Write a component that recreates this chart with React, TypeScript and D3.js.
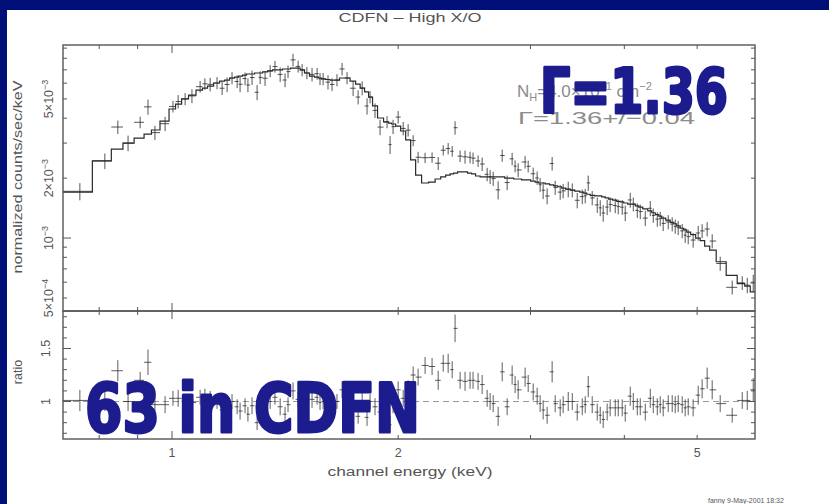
import React from "react";
import * as d3 from "d3";

// Bin centre energies (keV)
const energies = [
  0.754, 0.814, 0.847, 0.874, 0.907, 0.929, 0.949, 0.979, 1.003, 1.019,
  1.041, 1.063, 1.090, 1.106, 1.124, 1.148, 1.166, 1.184, 1.202, 1.221,
  1.232, 1.251, 1.262, 1.278, 1.298, 1.310, 1.330, 1.351, 1.371, 1.393,
  1.414, 1.427, 1.449, 1.472, 1.490, 1.512, 1.536, 1.560, 1.574, 1.589,
  1.613, 1.633, 1.658, 1.684, 1.710, 1.742, 1.769, 1.791, 1.818, 1.835,
  1.863, 1.892, 1.933, 1.951, 1.969, 2.000, 2.031, 2.062, 2.094, 2.126,
  2.172, 2.219, 2.261, 2.296, 2.331, 2.360, 2.381, 2.418, 2.455, 2.493,
  2.516, 2.555, 2.587, 2.627, 2.651, 2.676, 2.717, 2.751, 2.793, 2.836,
  2.862, 2.889, 2.951, 2.979, 3.025, 3.062, 3.090, 3.119, 3.157, 3.206,
  3.236, 3.286, 3.316, 3.368, 3.410, 3.462, 3.516, 3.548, 3.581, 3.625,
  3.681, 3.715, 3.749, 3.795, 3.830, 3.890, 3.926, 3.974, 4.011, 4.073,
  4.111, 4.162, 4.200, 4.265, 4.331, 4.371, 4.425, 4.465, 4.506, 4.576,
  4.632, 4.675, 4.718, 4.776, 4.820, 4.865, 4.939, 5.016, 5.077, 5.156,
  5.236, 5.366, 5.567, 5.741, 5.830, 5.938,
];

// Folded model (normalized counts/sec/keV)
const modelFlux = [
  1.70e-3, 2.44e-3, 2.80e-3, 3.00e-3, 3.18e-3, 3.33e-3, 3.49e-3, 3.87e-3, 4.45e-3, 4.71e-3,
  5.00e-3, 5.23e-3, 5.54e-3, 5.67e-3, 5.80e-3, 6.01e-3, 6.15e-3, 6.22e-3, 6.37e-3, 6.44e-3,
  6.51e-3, 6.59e-3, 6.67e-3, 6.67e-3, 6.75e-3, 6.75e-3, 6.83e-3, 6.91e-3, 6.99e-3, 6.99e-3,
  7.07e-3, 7.07e-3, 7.14e-3, 7.14e-3, 6.99e-3, 6.75e-3, 6.51e-3, 6.44e-3, 6.37e-3, 6.30e-3,
  6.26e-3, 6.22e-3, 6.22e-3, 6.37e-3, 6.37e-3, 6.15e-3, 5.94e-3, 5.67e-3, 5.42e-3, 5.11e-3,
  4.61e-3, 4.01e-3, 3.83e-3, 3.78e-3, 3.74e-3, 3.65e-3, 3.45e-3, 3.11e-3, 2.47e-3, 2.07e-3,
  1.89e-3, 1.91e-3, 1.98e-3, 2.03e-3, 2.07e-3, 2.10e-3, 2.12e-3, 2.15e-3, 2.15e-3, 2.12e-3,
  2.10e-3, 2.05e-3, 2.03e-3, 2.03e-3, 2.03e-3, 2.03e-3, 2.03e-3, 2.03e-3, 2.00e-3, 2.00e-3,
  1.98e-3, 1.98e-3, 1.96e-3, 1.96e-3, 1.93e-3, 1.91e-3, 1.89e-3, 1.89e-3, 1.87e-3, 1.85e-3,
  1.83e-3, 1.81e-3, 1.78e-3, 1.76e-3, 1.74e-3, 1.72e-3, 1.70e-3, 1.68e-3, 1.66e-3, 1.64e-3,
  1.63e-3, 1.63e-3, 1.61e-3, 1.59e-3, 1.57e-3, 1.55e-3, 1.53e-3, 1.52e-3, 1.50e-3, 1.48e-3,
  1.48e-3, 1.45e-3, 1.43e-3, 1.40e-3, 1.37e-3, 1.34e-3, 1.31e-3, 1.29e-3, 1.26e-3, 1.23e-3,
  1.20e-3, 1.18e-3, 1.15e-3, 1.12e-3, 1.10e-3, 1.07e-3, 1.04e-3, 1.00e-3, 0.97e-3, 0.91e-3,
  0.87e-3, 0.76e-3, 0.65e-3, 0.59e-3, 0.574e-3, 0.536e-3,
];

// data / model ratio
const ratios = [
  1.01, 1.00, 1.29, 1.00, 1.20, 1.37, 0.97, 0.97, 1.03, 1.03,
  1.00, 0.99, 1.04, 1.05, 1.02, 1.00, 0.92, 0.95, 1.00, 0.95,
  0.91, 0.96, 0.88, 0.96, 0.80, 0.95, 0.93, 1.00, 1.04, 0.95,
  0.88, 0.97, 1.10, 1.02, 1.00, 1.00, 1.02, 1.04, 0.99, 1.00,
  0.97, 0.95, 1.00, 1.11, 1.00, 0.92, 0.86, 1.00, 0.85, 1.00,
  0.95, 0.90, 1.00, 0.78, 0.97, 1.11, 1.03, 1.12, 1.25, 1.23,
  1.34, 1.33, 1.20, 1.36, 1.36, 1.30, 1.69, 1.20, 1.19, 1.20,
  1.20, 1.19, 1.16, 1.03, 1.00, 0.98, 0.86, 1.28, 0.95, 1.25,
  1.16, 1.11, 1.23, 1.17, 1.09, 1.05, 0.98, 0.92, 0.87, 1.28,
  0.98, 0.94, 0.97, 1.00, 1.00, 0.90, 0.95, 0.97, 1.14, 0.97,
  0.90, 0.87, 0.83, 0.90, 0.94, 0.94, 0.94, 0.94, 0.89, 1.05,
  1.00, 0.95, 0.95, 0.90, 1.03, 0.97, 0.95, 0.97, 0.94, 0.98,
  0.98, 0.97, 0.98, 0.97, 0.94, 0.95, 0.94, 1.06, 1.12, 1.22,
  1.11, 0.98, 0.87, 1.01, 1.01, 1.11,
];

// 1-sigma errors on the ratio
const ratioErrs = [
  0.10, 0.09, 0.10, 0.09, 0.08, 0.12, 0.08, 0.08, 0.07, 0.08,
  0.07, 0.08, 0.07, 0.07, 0.08, 0.07, 0.07, 0.08, 0.07, 0.07,
  0.08, 0.07, 0.07, 0.08, 0.07, 0.07, 0.08, 0.07, 0.07, 0.08,
  0.07, 0.07, 0.08, 0.07, 0.07, 0.07, 0.08, 0.07, 0.07, 0.07,
  0.08, 0.07, 0.07, 0.08, 0.07, 0.08, 0.07, 0.08, 0.08, 0.07,
  0.08, 0.08, 0.07, 0.08, 0.08, 0.08, 0.08, 0.08, 0.08, 0.08,
  0.08, 0.08, 0.09, 0.08, 0.09, 0.08, 0.13, 0.08, 0.09, 0.08,
  0.08, 0.08, 0.09, 0.08, 0.08, 0.08, 0.09, 0.09, 0.08, 0.09,
  0.08, 0.09, 0.09, 0.08, 0.08, 0.08, 0.08, 0.09, 0.08, 0.10,
  0.08, 0.08, 0.08, 0.09, 0.08, 0.08, 0.08, 0.08, 0.10, 0.08,
  0.08, 0.08, 0.08, 0.08, 0.08, 0.08, 0.08, 0.08, 0.08, 0.09,
  0.08, 0.08, 0.08, 0.08, 0.09, 0.08, 0.08, 0.08, 0.08, 0.08,
  0.08, 0.08, 0.08, 0.08, 0.08, 0.08, 0.08, 0.09, 0.09, 0.10,
  0.09, 0.08, 0.07, 0.08, 0.09, 0.11,
];

const xTickValues = [0.8, 0.9, 1, 2, 3, 4, 5];
const xMajorTicks = [1];
const xTickLabels = [
  { v: 1, t: "1" },
  { v: 2, t: "2" },
  { v: 5, t: "5" },
];
const yTopTickValues = [5e-4, 6e-4, 7e-4, 8e-4, 9e-4, 1e-3, 2e-3, 3e-3, 4e-3, 5e-3, 6e-3, 7e-3, 8e-3, 9e-3];
const yTopMajorTicks = [1e-3];
const yTopTickLabels = [
  { v: 5e-4, m: "5×10", e: "−4" },
  { v: 1e-3, m: "10", e: "−3" },
  { v: 2e-3, m: "2×10", e: "−3" },
  { v: 5e-3, m: "5×10", e: "−3" },
];
const yBotTickValues = [0.7, 0.8, 0.9, 1.0, 1.1, 1.2, 1.3, 1.4, 1.5, 1.6, 1.7, 1.8];
const yBotMajorTicks = [1.0, 1.5];
const yBotTickLabels = [
  { v: 1.0, t: "1" },
  { v: 1.5, t: "1.5" },
];

const PG_FONT = "'Liberation Sans', 'DejaVu Sans', sans-serif";
const AXIS = "#555";
const INK = "#2a2a2a";
const NAVY = "#011078";
const OVERLAY = "#1c1c8e";

export default function App() {
  const W = 829, H = 504;
  const L = 63, R = 755, T = 45, M = 311, B = 439;
  const x = d3.scaleLog().domain([0.716, 5.97]).range([L, R]);
  const yTop = d3.scaleLog().domain([4.3e-4, 9.33e-3]).range([M, T]);
  const yBot = d3.scaleLinear().domain([0.646, 1.854]).range([B, M]);

  const n = energies.length;
  const [xmin, xmax] = x.domain();
  const edges = d3.range(n + 1).map((i) =>
    i === 0 ? xmin : i === n ? xmax : Math.sqrt(energies[i - 1] * energies[i])
  );
  const stepPts: [number, number][] = edges.map((e, i) => [x(e), yTop(modelFlux[Math.min(i, n - 1)])]);
  const stepPath = d3.line().curve(d3.curveStepAfter)(stepPts) || "";

  const majLen = 8, minLen = 4;
  const ticks: JSX.Element[] = [];
  xTickValues.forEach((v, i) => {
    const len = xMajorTicks.includes(v) ? majLen : minLen;
    const px = x(v);
    [
      [T, 1], [M, -1], [M, 1], [B, -1],
    ].forEach(([y0, dir], j) => {
      ticks.push(<line key={`xt${i}-${j}`} x1={px} x2={px} y1={y0} y2={y0 + dir * len} stroke={AXIS} strokeWidth={1} />);
    });
  });
  yTopTickValues.forEach((v, i) => {
    const len = yTopMajorTicks.includes(v) ? majLen : minLen;
    const py = yTop(v);
    ticks.push(<line key={`ytl${i}`} x1={L} x2={L + len} y1={py} y2={py} stroke={AXIS} strokeWidth={1} />);
    ticks.push(<line key={`ytr${i}`} x1={R} x2={R - len} y1={py} y2={py} stroke={AXIS} strokeWidth={1} />);
  });
  yBotTickValues.forEach((v, i) => {
    const len = yBotMajorTicks.some((m) => Math.abs(m - v) < 1e-9) ? majLen : minLen;
    const py = yBot(v);
    ticks.push(<line key={`ybl${i}`} x1={L} x2={L + len} y1={py} y2={py} stroke={AXIS} strokeWidth={1} />);
    ticks.push(<line key={`ybr${i}`} x1={R} x2={R - len} y1={py} y2={py} stroke={AXIS} strokeWidth={1} />);
  });

  const topCrosses = energies.map((e, i) => {
    const f = modelFlux[i] * ratios[i];
    const err = modelFlux[i] * ratioErrs[i];
    const py = yTop(f);
    return (
      <g key={`tc${i}`}>
        <line x1={x(edges[i])} x2={x(edges[i + 1])} y1={py} y2={py} />
        <line x1={x(e)} x2={x(e)} y1={yTop(f + err)} y2={yTop(Math.max(f - err, 1e-6))} />
      </g>
    );
  });
  const botCrosses = energies.map((e, i) => {
    const r = ratios[i];
    const py = yBot(r);
    return (
      <g key={`bc${i}`}>
        <line x1={x(edges[i])} x2={x(edges[i + 1])} y1={py} y2={py} />
        <line x1={x(e)} x2={x(e)} y1={yBot(r + ratioErrs[i])} y2={yBot(r - ratioErrs[i])} />
      </g>
    );
  });

  return (
    <svg width={W} height={H} style={{ position: "absolute", left: 0, top: 0, display: "block" }}>
      <style>{`body{margin:0}`}</style>
      <rect x={0} y={0} width={W} height={H} fill="#fff" />
      <rect x={0} y={0} width={W} height={10} fill={NAVY} />
      <rect x={0} y={0} width={7} height={H} fill={NAVY} />

      <text x={410} y={22} textAnchor="middle" fontFamily={PG_FONT} fontSize={12.5} fill={AXIS} textLength={143} lengthAdjust="spacingAndGlyphs">
        CDFN – High X/O
      </text>

      {/* dashed unity line */}
      <line x1={L} x2={R} y1={yBot(1)} y2={yBot(1)} stroke="#999" strokeWidth={1} strokeDasharray="6,4" />

      <g stroke={INK} strokeWidth={1} strokeOpacity={0.8}>{topCrosses}</g>
      <g stroke={INK} strokeWidth={1} strokeOpacity={0.75}>{botCrosses}</g>
      <path d={stepPath} fill="none" stroke={INK} strokeWidth={1.2} />

      {ticks}
      <rect x={L} y={T} width={R - L} height={M - T} fill="none" stroke={AXIS} strokeWidth={1.4} />
      <rect x={L} y={M} width={R - L} height={B - M} fill="none" stroke={AXIS} strokeWidth={1.4} />

      {/* y tick labels, upper */}
      {yTopTickLabels.map((d, i) => (
        <text key={`ytlab${i}`} transform={`translate(53,${yTop(d.v)}) rotate(-90)`} textAnchor="middle" fontFamily={PG_FONT} fontSize={12.5} fill={AXIS}>
          {d.m}
          <tspan dy={-5} fontSize={9}>{d.e}</tspan>
        </text>
      ))}
      {yBotTickLabels.map((d, i) => (
        <text key={`yblab${i}`} transform={`translate(50,${yBot(d.v)}) rotate(-90)`} textAnchor="middle" fontFamily={PG_FONT} fontSize={12.5} fill={AXIS}>
          {d.t}
        </text>
      ))}
      {xTickLabels.map((d, i) => (
        <text key={`xlab${i}`} x={x(d.v)} y={457} textAnchor="middle" fontFamily={PG_FONT} fontSize={12.5} fill={AXIS}>
          {d.t}
        </text>
      ))}

      <text x={410} y={476} textAnchor="middle" fontFamily={PG_FONT} fontSize={12.5} fill={AXIS} textLength={165} lengthAdjust="spacingAndGlyphs">
        channel energy (keV)
      </text>
      <text transform={`translate(22,177) rotate(-90)`} textAnchor="middle" fontFamily={PG_FONT} fontSize={12.5} fill={AXIS} textLength={193} lengthAdjust="spacingAndGlyphs">
        normalized counts/sec/keV
      </text>
      <text transform={`translate(22,372) rotate(-90)`} textAnchor="middle" fontFamily={PG_FONT} fontSize={12.5} fill={AXIS}>
        ratio
      </text>

      {/* fit annotation */}
      <text x={517} y={97} fontFamily={PG_FONT} fontSize={17} fill="#8c8c8c">
        N<tspan dy={4} fontSize={11}>H</tspan>
        <tspan dy={-4}>=4.0×10</tspan>
        <tspan dy={-7} fontSize={11}>21</tspan>
        <tspan dy={7}> cm</tspan>
        <tspan dy={-7} fontSize={11}>−2</tspan>
      </text>
      <text x={518} y={124} fontFamily={PG_FONT} fontSize={17} fill="#8c8c8c" textLength={177} lengthAdjust="spacingAndGlyphs">
        Γ=1.36+/−0.04
      </text>

      <text x={708} y={503} fontFamily={PG_FONT} fontSize={7} fill="#555">
        fanny  9-May-2001 18:32
      </text>

      {/* overlays */}
      <text x={540} y={113} fontFamily="'DejaVu Sans', sans-serif" fontWeight="bold" fontSize={63} fill={OVERLAY} stroke={OVERLAY} strokeWidth={3} strokeLinejoin="round" textLength={188} lengthAdjust="spacingAndGlyphs">
        Γ=1.36
      </text>
      <text x={85} y={432} fontFamily="'DejaVu Sans', sans-serif" fontWeight="bold" fontSize={68} fill={OVERLAY} stroke={OVERLAY} strokeWidth={3} strokeLinejoin="round" textLength={335} lengthAdjust="spacingAndGlyphs">
        63 in CDFN
      </text>
    </svg>
  );
}
